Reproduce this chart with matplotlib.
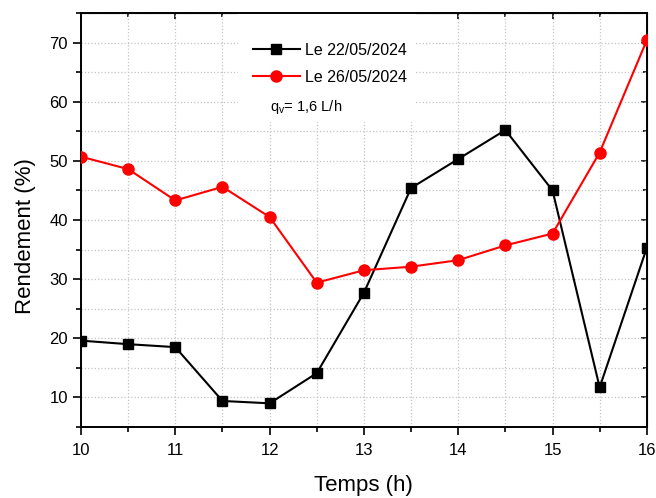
import matplotlib
matplotlib.use("Agg")
import matplotlib.pyplot as plt
from matplotlib.patches import Rectangle
from matplotlib.ticker import MultipleLocator

plt.rcParams['font.family'] = ['Liberation Sans', 'DejaVu Sans']
plt.rcParams['mathtext.fontset'] = 'custom'
plt.rcParams['mathtext.rm'] = 'Liberation Sans'

# time (h)
temps = [10, 10.5, 11, 11.5, 12, 12.5, 13, 13.5, 14, 14.5, 15, 15.5, 16]
# rendement (%)
rend_2205 = [19.6, 19.0, 18.5, 9.4, 9.0, 14.1, 27.7, 45.4, 50.3, 55.2, 45.0, 11.7, 35.3]
rend_2605 = [50.7, 48.6, 43.3, 45.6, 40.5, 29.4, 31.5, 32.1, 33.2, 35.7, 37.7, 51.4, 70.4]
lab_2205 = 'Le 22/05/2024'
lab_2605 = 'Le 26/05/2024'
note = 'q$_\\mathregular{v}$= 1,6 L/h'

fig = plt.figure(figsize=(6.56, 4.98), dpi=100)
ax = fig.add_axes([0.1235, 0.1426, 0.8625, 0.8314])

ax.plot(temps, rend_2205, '-s', color='black', lw=1.5, ms=7, label=lab_2205, zorder=3)
ax.plot(temps, rend_2605, '-o', color='red', lw=1.5, ms=8, label=lab_2605, zorder=3)

ax.set_xlim(10, 16)
ax.set_ylim(5, 75)
ax.xaxis.set_major_locator(MultipleLocator(1))
ax.xaxis.set_minor_locator(MultipleLocator(0.5))
ax.yaxis.set_major_locator(MultipleLocator(10))
ax.yaxis.set_minor_locator(MultipleLocator(5))
ax.set_axisbelow(True)
ax.grid(True, which='both', ls=':', color='#c4c4c4', lw=0.9)
ax.tick_params(which='major', direction='out', length=5.5, width=1.2, labelsize=12)
ax.tick_params(axis='x', which='major', pad=6)
ax.tick_params(axis='y', which='major', pad=4)
ax.tick_params(which='minor', direction='out', length=3.5, width=1.2)
for sp in ax.spines.values():
    sp.set_linewidth(1.4)

# mirrored ticks pointing inward on top and right
top = ax.secondary_xaxis('top')
right = ax.secondary_yaxis('right')
top.xaxis.set_major_locator(MultipleLocator(1))
top.xaxis.set_minor_locator(MultipleLocator(0.5))
right.yaxis.set_major_locator(MultipleLocator(10))
right.yaxis.set_minor_locator(MultipleLocator(5))
for sa in (top, right):
    sa.tick_params(which='major', direction='in', length=4, width=1.2,
                   labeltop=False, labelright=False)
    sa.tick_params(which='minor', direction='in', length=3, width=1.2)

# white box behind the legend hiding the grid
ax.add_patch(Rectangle((0.277, 0.737), 0.315, 0.263, transform=ax.transAxes,
                       facecolor='white', edgecolor='none', zorder=1))

ax.legend(loc='upper left', bbox_to_anchor=(0.278, 0.962), frameon=False,
          fontsize=11.5, handlelength=2.95, handletextpad=0.35, labelspacing=0.75)
ax.text(0.334, 0.773, note, transform=ax.transAxes, fontsize=10.5,
        va='center', ha='left')

ax.set_xlabel('Temps (h)', fontsize=16, labelpad=12)
ax.set_ylabel('Rendement (%)', fontsize=16)
ax.yaxis.set_label_coords(-0.08, 0.461)

fig.savefig('out.png', dpi=100)
